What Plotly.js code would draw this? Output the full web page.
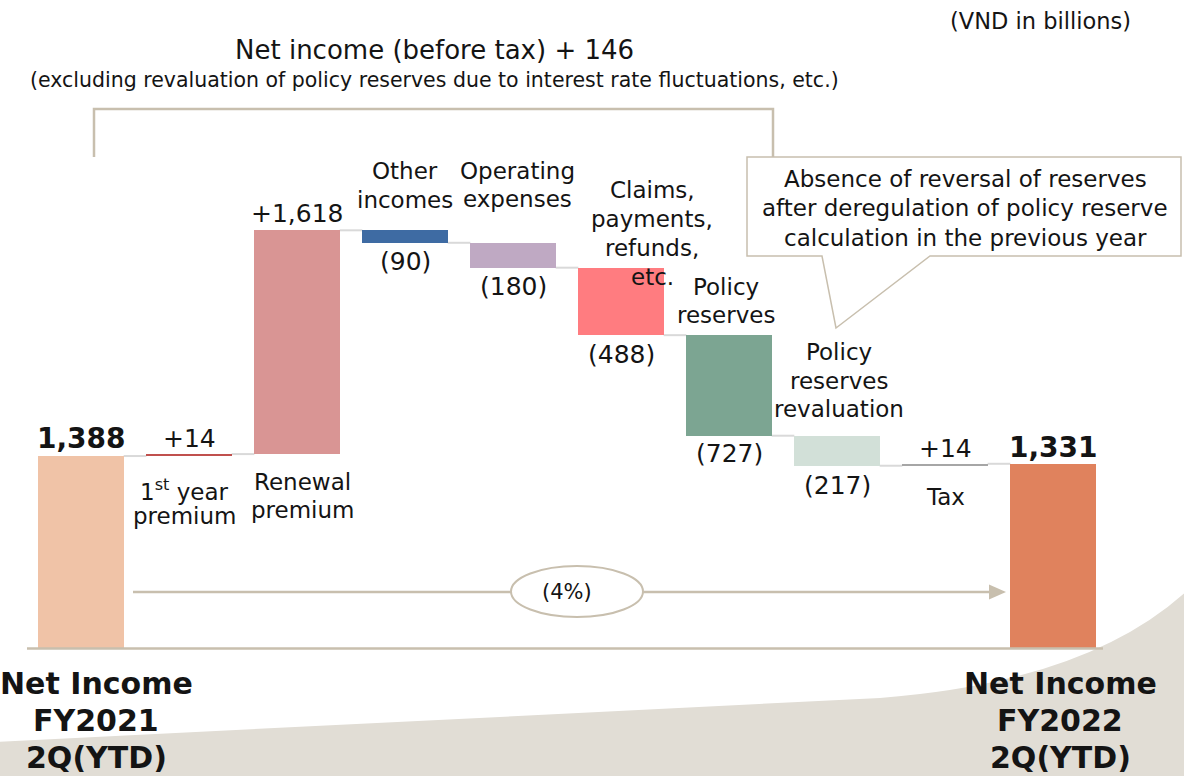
<!DOCTYPE html>
<html><head><meta charset="utf-8">
<script src="https://cdn.plot.ly/plotly-3.0.1.min.js"></script>
<style>html,body{margin:0;padding:0;background:#fff}#chart{width:1184px;height:776px}</style>
</head><body><div id="chart"></div>
<script>
// ---- data ----
const categories = ['Net Income FY2021 2Q(YTD)','1st year premium','Renewal premium','Other incomes','Operating expenses','Claims, payments, refunds, etc.','Policy reserves','Policy reserves revaluation','Tax','Net Income FY2022 2Q(YTD)'];
const categoryLines = [['Net Income','FY2021','2Q(YTD)'],['1<sup>st</sup> year','premium'],['Renewal','premium'],['Other','incomes'],['Operating','expenses'],['Claims,','payments,','refunds,','etc.'],['Policy','reserves'],['Policy','reserves','revaluation'],['Tax'],['Net Income','FY2022','2Q(YTD)']];
const values = [1388, 14, 1618, -90, -180, -488, -727, -217, 14, 1331];
const isTotal = [true, false, false, false, false, false, false, false, false, true];
const valueLabels = ['1,388','+14','+1,618','(90)','(180)','(488)','(727)','(217)','+14','1,331'];
const changeLabel = '(4%)';
const titleText = 'Net income (before tax) + 146';
const subtitleText = '(excluding revaluation of policy reserves due to interest rate fluctuations, etc.)';
const unitText = '(VND in billions)';
const calloutLines = ['Absence of reversal of reserves','after deregulation of policy reserve','calculation in the previous year'];

// ---- styles ----
const barColors = ['#f0c3a7','#c0504d','#d99594','#3e6ba3','#bfa9c3','#ff7c80','#7ca592','#d2e0d8','#a6a6a6','#e0825d'];
const FONT = 'DejaVu Sans, Verdana, sans-serif';
const TXT = '#141414';
const LINE = '#c8bfae';

// ---- geometry ----
const W = 1184, H = 776, ML = 27, MR = 77, MT = 100, MB = 128;
const PW = W - ML - MR, PH = H - MT - MB;
const YMAX = PH / 0.1383;
const px = x => (x - ML) / PW;
const py = y => (H - MB - y) / PH;

// ---- compute waterfall ----
const xs = categories.map((_, i) => i);
const bases = [], heights = [], tops = [], bottoms = [], afters = [];
let run = 0;
values.forEach((v, i) => {
  if (isTotal[i]) { bases.push(0); heights.push(v); run = v; }
  else { bases.push(run); heights.push(v); run += v; }
  afters.push(run);
  tops.push(Math.max(bases[i], bases[i] + heights[i]));
  bottoms.push(Math.min(bases[i], bases[i] + heights[i]));
});

const BW = 0.79;
const trace = {
  type: 'bar', x: xs, y: heights, base: bases, width: BW,
  marker: {color: barColors, line: {width: 0}},
  hoverinfo: 'skip', showlegend: false
};

const shapes = [];
// background decoration
shapes.push({type: 'path', xref: 'paper', yref: 'paper', layer: 'below',
  path: `M ${px(-5)} ${py(742)} L ${px(880)} ${py(698)} Q ${px(1090)} ${py(682)} ${px(1190)} ${py(588)} L ${px(1190)} ${py(780)} L ${px(-5)} ${py(780)} Z`,
  fillcolor: '#e1ddd5', line: {width: 0}});
// connectors
for (let i = 0; i < values.length - 1; i++) {
  shapes.push({type: 'line', xref: 'x', yref: 'y', layer: 'below',
    x0: i + BW / 2, x1: i + 1 - BW / 2, y0: afters[i], y1: afters[i],
    line: {color: '#d9d9d9', width: 2}});
}
// baseline
shapes.push({type: 'line', xref: 'paper', yref: 'paper', x0: px(27), x1: px(1103), y0: py(648.5), y1: py(648.5), line: {color: LINE, width: 2.5}});
// bracket
shapes.push({type: 'path', xref: 'paper', yref: 'paper',
  path: `M ${px(94)} ${py(157)} L ${px(94)} ${py(109)} L ${px(773)} ${py(109)} L ${px(773)} ${py(157)}`,
  line: {color: LINE, width: 2.5}});
// callout
shapes.push({type: 'path', xref: 'paper', yref: 'paper',
  path: `M ${px(747)} ${py(157)} L ${px(1181)} ${py(157)} L ${px(1181)} ${py(256)} L ${px(930)} ${py(256)} L ${px(836)} ${py(328)} L ${px(822)} ${py(256)} L ${px(747)} ${py(256)} Z`,
  fillcolor: '#ffffff', line: {color: LINE, width: 1.5}});
// change arrow line + head
shapes.push({type: 'line', xref: 'paper', yref: 'paper', x0: px(133), x1: px(992), y0: py(592), y1: py(592), line: {color: LINE, width: 2.5}});
shapes.push({type: 'path', xref: 'paper', yref: 'paper',
  path: `M ${px(1006)} ${py(592)} L ${px(989)} ${py(584.5)} L ${px(989)} ${py(599.5)} Z`,
  fillcolor: LINE, line: {width: 0}});
// ellipse
shapes.push({type: 'circle', xref: 'paper', yref: 'paper', x0: px(511), x1: px(643), y0: py(566), y1: py(617),
  fillcolor: '#ffffff', line: {color: LINE, width: 2}});

const annotations = [];
function addLines(lines, x, xref, yCenter, yref, yshiftCenter, xshift, spacing, font) {
  const n = lines.length;
  lines.forEach((t, k) => {
    annotations.push({x: x, y: yCenter, xref: xref, yref: yref, text: t, showarrow: false,
      xanchor: 'center', yanchor: 'middle', xshift: xshift,
      yshift: yshiftCenter - (k - (n - 1) / 2) * spacing, font: font});
  });
}
// value labels
const valueShift = [18, 16, 17, -19, -19, -19, -18, -20, 15, 16];
values.forEach((v, i) => {
  const yv = (isTotal[i] || v > 0) ? tops[i] : bottoms[i];
  annotations.push({x: i, y: yv, xref: 'x', yref: 'y', text: isTotal[i] ? '<b>' + valueLabels[i] + '</b>' : valueLabels[i],
    showarrow: false, yanchor: 'middle', xanchor: 'center', yshift: valueShift[i],
    font: {family: FONT, size: isTotal[i] ? 28 : 25, color: TXT}});
});
// category labels
const catAnchorTop = [false, false, false, true, true, true, true, true, false, false];
const catShiftY = [-72, -47, -42, 44.5, 58, 34, 34, 55, -31, -72];
const catShiftX = [15, -5, 5, 0, 4, 31, -3, 2, 0, 7];
const catSpacing = [37, 26, 28, 29, 28, 29, 28, 28.5, 28, 37];
categories.forEach((c, i) => {
  const yv = isTotal[i] ? 0 : (catAnchorTop[i] ? tops[i] : bottoms[i]);
  const lines = isTotal[i] ? categoryLines[i].map(t => '<b>' + t + '</b>') : categoryLines[i];
  addLines(lines, i, 'x', yv, 'y', catShiftY[i], catShiftX[i], catSpacing[i],
    {family: FONT, size: isTotal[i] ? 30 : 23, color: TXT});
});
// titles
annotations.push({xref: 'paper', yref: 'paper', x: px(434), y: py(50), text: titleText, showarrow: false, xanchor: 'center', yanchor: 'middle', font: {family: FONT, size: 26, color: TXT}});
annotations.push({xref: 'paper', yref: 'paper', x: px(434), y: py(80), text: subtitleText, showarrow: false, xanchor: 'center', yanchor: 'middle', font: {family: FONT, size: 20.5, color: TXT}});
annotations.push({xref: 'paper', yref: 'paper', x: px(1040), y: py(21), text: unitText, showarrow: false, xanchor: 'center', yanchor: 'middle', font: {family: FONT, size: 22.5, color: TXT}});
addLines(calloutLines, px(965), 'paper', py(208), 'paper', 0, 0, 29.5, {family: FONT, size: 23, color: TXT});
annotations.push({xref: 'paper', yref: 'paper', x: px(567), y: py(592), text: changeLabel, showarrow: false, xanchor: 'center', yanchor: 'middle', font: {family: FONT, size: 21, color: TXT}});

const layout = {
  width: W, height: H, margin: {l: ML, r: MR, t: MT, b: MB},
  paper_bgcolor: '#ffffff', plot_bgcolor: 'rgba(0,0,0,0)',
  xaxis: {range: [-0.5, 9.5], visible: false, fixedrange: true},
  yaxis: {range: [0, YMAX], visible: false, fixedrange: true},
  bargap: 0, shapes: shapes, annotations: annotations, showlegend: false,
  font: {family: FONT}
};
Plotly.newPlot('chart', [trace], layout, {displayModeBar: false, staticPlot: true});
</script></body></html>
